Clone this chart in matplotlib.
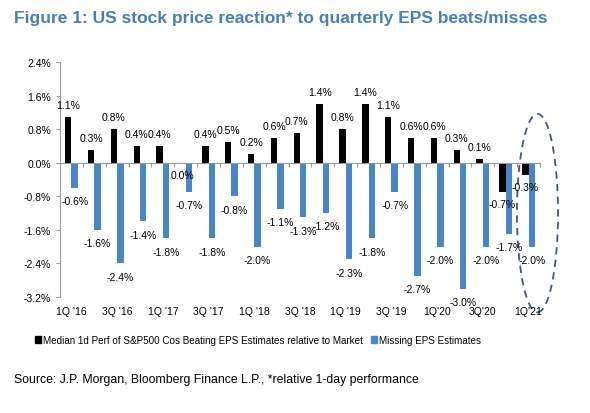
import matplotlib
matplotlib.use("Agg")
import matplotlib.pyplot as plt
import numpy as np
from matplotlib.patches import Ellipse, Patch

# Data (% relative 1-day performance)
quarters = ["1Q '16", "2Q '16", "3Q '16", "4Q '16", "1Q '17", "2Q '17", "3Q '17",
            "4Q '17", "1Q '18", "2Q '18", "3Q '18", "4Q '18", "1Q '19", "2Q '19",
            "3Q '19", "4Q '19", "1Q'20", "2Q'20", "3Q'20", "4Q'20", "1Q'21"]
beats = [1.1, 0.3, 0.8, 0.4, 0.4, 0.0, 0.4, 0.5, 0.2, 0.6, 0.7,
         1.4, 0.8, 1.4, 1.1, 0.6, 0.6, 0.3, 0.1, -0.7, -0.3]
misses = [-0.6, -1.6, -2.4, -1.4, -1.8, -0.7, -1.8, -0.8, -2.0, -1.1, -1.3,
          -1.2, -2.3, -1.8, -0.7, -2.7, -2.0, -3.0, -2.0, -1.7, -2.0]
yticks = [-3.2, -2.4, -1.6, -0.8, 0.0, 0.8, 1.6, 2.4]

plt.rcParams['font.family'] = ['Liberation Sans', 'DejaVu Sans']

blue = "#4a86c4"
fig = plt.figure(figsize=(5.9, 4.14), dpi=100)
ax = fig.add_axes([60 / 590, 1 - 298 / 414, 480 / 590, 235 / 414])

x = np.arange(len(quarters))
w = 0.28
ax.bar(x - w / 2, beats, w, color="black")
ax.bar(x + w / 2, misses, w, color=blue)

# value labels
for i, (b, m) in enumerate(zip(beats, misses)):
    if b > 0:
        ax.annotate(f"{b:.1f}%", (x[i] - w / 2, b), xytext=(0, 5), textcoords="offset points",
                    ha="center", va="bottom", fontsize=7.5)
    else:
        ax.annotate(f"{b:.1f}%", (x[i] - w / 2, b), xytext=(0, -5), textcoords="offset points",
                    ha="center", va="top", fontsize=7.5)
    ax.annotate(f"{m:.1f}%", (x[i] + w / 2, m), xytext=(0, -6), textcoords="offset points",
                ha="center", va="top", fontsize=7.5)

ax.set_ylim(-3.2, 2.4)
ax.set_xlim(-0.5, len(quarters) - 0.5)
ax.set_yticks(yticks)
ax.set_yticklabels([f"{v:.1f}%" for v in yticks], fontsize=7.5)

for s in ["top", "right"]:
    ax.spines[s].set_visible(False)
ax.spines["left"].set_color("#999999")
ax.spines["bottom"].set_position(("data", 0))
ax.spines["bottom"].set_color("#999999")
ax.tick_params(axis="y", color="#999999", length=3)
ax.set_xticks(np.arange(len(quarters) + 1) - 0.5)
ax.set_xticklabels([])
ax.tick_params(axis="x", color="#999999", length=3, direction="out")

# category labels at the bottom, every other quarter
for i in range(0, len(quarters), 2):
    ax.text(x[i], -0.06, quarters[i], transform=ax.get_xaxis_transform(),
            ha="center", va="center", fontsize=7.5)

# dashed ellipse around latest quarter
ell = Ellipse((x[-1] + 0.39, -1.2), 1.8, 4.73, fill=False, ls=(0, (4, 3)),
              ec="#3d5a7a", lw=1.3, clip_on=False)
ax.add_patch(ell)

handles = [Patch(color="black"), Patch(color=blue)]
fig.legend(handles, ["Median 1d Perf of S&P500 Cos Beating EPS Estimates relative to Market",
                     "Missing EPS Estimates"],
           loc="center", bbox_to_anchor=(258 / 590, 1 - 341 / 414), ncol=2, frameon=False,
           fontsize=7.1, handlelength=0.6, handleheight=0.6, handletextpad=0.2, columnspacing=0.8)

fig.text(14 / 590, 1 - 18 / 414, "Figure 1: US stock price reaction* to quarterly EPS beats/misses",
         color="#4a7fb5", fontsize=12.5, fontweight="bold", va="center", ha="left")
fig.text(14 / 590, 1 - 380 / 414, "Source: J.P. Morgan, Bloomberg Finance L.P., *relative 1-day performance",
         fontsize=8.8, va="center", ha="left")

fig.savefig("out.png", dpi=100)
